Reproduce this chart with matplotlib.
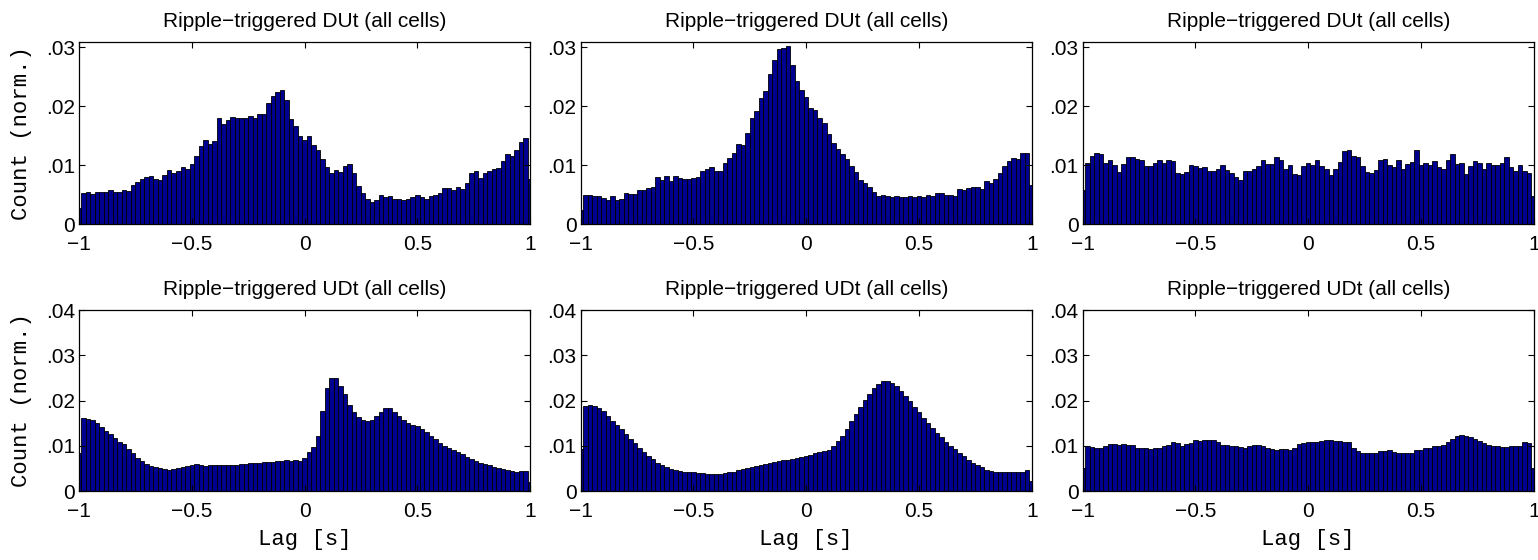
import matplotlib
matplotlib.use("Agg")
import matplotlib.pyplot as plt
from matplotlib.ticker import FixedLocator, FuncFormatter
import numpy as np

# bin centres -1 ... 1, step 0.02 (101 bins)
lag_step = 0.02

du_1 = [0.00265, 0.0052, 0.0055, 0.0051, 0.0054, 0.0055, 0.0055, 0.0058, 0.0054, 0.0054,
        0.0058, 0.0056, 0.0066, 0.0071, 0.0077, 0.0079, 0.0081, 0.0076, 0.0074, 0.0083,
        0.0091, 0.0086, 0.0090, 0.0096, 0.0093, 0.0102, 0.0115, 0.0132, 0.0142, 0.0136,
        0.0140, 0.0179, 0.0170, 0.0177, 0.0182, 0.0180, 0.0179, 0.0179, 0.0183, 0.0180,
        0.0187, 0.0187, 0.0205, 0.0217, 0.0224, 0.0227, 0.0210, 0.0178, 0.0166, 0.0149,
        0.0142, 0.0149, 0.0134, 0.0126, 0.0111, 0.0096, 0.0086, 0.0091, 0.0088, 0.0098,
        0.0101, 0.0086, 0.0064, 0.0052, 0.0043, 0.0038, 0.0041, 0.0050, 0.0046, 0.0047,
        0.0043, 0.0042, 0.0041, 0.0043, 0.0046, 0.0049, 0.0045, 0.0043, 0.0047, 0.0049,
        0.0052, 0.0061, 0.0061, 0.0058, 0.0063, 0.0060, 0.0069, 0.0087, 0.0089, 0.0078,
        0.0087, 0.0090, 0.0093, 0.0095, 0.0107, 0.0118, 0.0116, 0.0125, 0.0139, 0.0145,
        0.0076]

du_2 = [0.0023, 0.0050, 0.0049, 0.0047, 0.0047, 0.0044, 0.0041, 0.0047, 0.0041, 0.0043,
        0.0052, 0.0051, 0.0051, 0.0058, 0.0058, 0.0061, 0.0063, 0.0080, 0.0074, 0.0081,
        0.0073, 0.0081, 0.0078, 0.0077, 0.0077, 0.0078, 0.0080, 0.0090, 0.0093, 0.0096,
        0.0089, 0.0089, 0.0104, 0.0112, 0.0121, 0.0135, 0.0134, 0.0155, 0.0180, 0.0191,
        0.0214, 0.0225, 0.0254, 0.0278, 0.0297, 0.0299, 0.0301, 0.0270, 0.0242, 0.0227,
        0.0215, 0.0196, 0.0193, 0.0180, 0.0172, 0.0153, 0.0138, 0.0127, 0.0118, 0.0111,
        0.0099, 0.0088, 0.0074, 0.0070, 0.0063, 0.0055, 0.0047, 0.0049, 0.0047, 0.0046,
        0.0048, 0.0046, 0.0045, 0.0048, 0.0046, 0.0047, 0.0045, 0.0049, 0.0047, 0.0053,
        0.0052, 0.0049, 0.0049, 0.0047, 0.0059, 0.0057, 0.0061, 0.0062, 0.0062, 0.0059,
        0.0073, 0.0070, 0.0077, 0.0087, 0.0099, 0.0106, 0.0112, 0.0111, 0.0121, 0.0120,
        0.0066]

du_3 = [0.0058, 0.0104, 0.0116, 0.0121, 0.0118, 0.0103, 0.0109, 0.0100, 0.0088, 0.0101,
        0.0113, 0.0114, 0.0110, 0.0108, 0.0099, 0.0099, 0.0104, 0.0108, 0.0103, 0.0108,
        0.0107, 0.0087, 0.0084, 0.0088, 0.0100, 0.0098, 0.0095, 0.0096, 0.0090, 0.0090,
        0.0094, 0.0100, 0.0091, 0.0086, 0.0079, 0.0074, 0.0090, 0.0090, 0.0094, 0.0099,
        0.0108, 0.0102, 0.0102, 0.0113, 0.0109, 0.0093, 0.0100, 0.0084, 0.0083, 0.0099,
        0.0104, 0.0100, 0.0109, 0.0098, 0.0093, 0.0083, 0.0094, 0.0105, 0.0124, 0.0125,
        0.0116, 0.0113, 0.0098, 0.0088, 0.0086, 0.0092, 0.0108, 0.0110, 0.0100, 0.0097,
        0.0109, 0.0093, 0.0101, 0.0105, 0.0126, 0.0100, 0.0104, 0.0100, 0.0107, 0.0096,
        0.0093, 0.0108, 0.0118, 0.0102, 0.0103, 0.0085, 0.0098, 0.0107, 0.0104, 0.0094,
        0.0103, 0.0100, 0.0100, 0.0103, 0.0113, 0.0096, 0.0090, 0.0100, 0.0089, 0.0086,
        0.0047]

ud_1 = [0.0084, 0.0162, 0.0159, 0.0158, 0.0151, 0.0142, 0.0132, 0.0125, 0.0118, 0.0109,
        0.0103, 0.0092, 0.0083, 0.0073, 0.0066, 0.0059, 0.0055, 0.0052, 0.0051, 0.0049,
        0.0047, 0.0049, 0.0051, 0.0052, 0.0055, 0.0058, 0.0059, 0.0057, 0.0056, 0.0057,
        0.0057, 0.0058, 0.0058, 0.0058, 0.0058, 0.0058, 0.0059, 0.0060, 0.0061, 0.0061,
        0.0063, 0.0064, 0.0065, 0.0064, 0.0066, 0.0067, 0.0068, 0.0067, 0.0068, 0.0067,
        0.0073, 0.0087, 0.0097, 0.0122, 0.0176, 0.0227, 0.0250, 0.0249, 0.0232, 0.0214,
        0.0191, 0.0174, 0.0164, 0.0158, 0.0154, 0.0158, 0.0165, 0.0175, 0.0183, 0.0183,
        0.0174, 0.0165, 0.0156, 0.0150, 0.0145, 0.0143, 0.0138, 0.0131, 0.0122, 0.0114,
        0.0105, 0.0100, 0.0094, 0.0090, 0.0086, 0.0081, 0.0075, 0.0071, 0.0067, 0.0063,
        0.0060, 0.0057, 0.0054, 0.0051, 0.0049, 0.0046, 0.0044, 0.0042, 0.0044, 0.0044,
        0.0021]

ud_2 = [0.0092, 0.0187, 0.0190, 0.0188, 0.0184, 0.0176, 0.0166, 0.0155, 0.0146, 0.0136,
        0.0126, 0.0116, 0.0106, 0.0096, 0.0087, 0.0078, 0.0070, 0.0063, 0.0057, 0.0052,
        0.0048, 0.0046, 0.0044, 0.0043, 0.0042, 0.0041, 0.0040, 0.0039, 0.0038, 0.0038,
        0.0038, 0.0038, 0.0039, 0.0041, 0.0043, 0.0046, 0.0049, 0.0051, 0.0053, 0.0055,
        0.0057, 0.0060, 0.0062, 0.0065, 0.0066, 0.0068, 0.0069, 0.0071, 0.0073, 0.0075,
        0.0077, 0.0080, 0.0083, 0.0086, 0.0088, 0.0091, 0.0100, 0.0110, 0.0122, 0.0138,
        0.0154, 0.0170, 0.0186, 0.0201, 0.0215, 0.0227, 0.0237, 0.0243, 0.0243, 0.0239,
        0.0232, 0.0221, 0.0210, 0.0199, 0.0186, 0.0174, 0.0162, 0.0151, 0.0139, 0.0128,
        0.0119, 0.0108, 0.0100, 0.0092, 0.0084, 0.0077, 0.0069, 0.0063, 0.0057, 0.0052,
        0.0047, 0.0044, 0.0042, 0.0041, 0.0041, 0.0041, 0.0041, 0.0041, 0.0042, 0.0046,
        0.0022]

ud_3 = [0.0050, 0.0100, 0.0097, 0.0096, 0.0096, 0.0100, 0.0104, 0.0104, 0.0102, 0.0104,
        0.0102, 0.0102, 0.0096, 0.0095, 0.0095, 0.0093, 0.0094, 0.0094, 0.0099, 0.0102,
        0.0108, 0.0105, 0.0100, 0.0104, 0.0105, 0.0112, 0.0110, 0.0112, 0.0112, 0.0112,
        0.0108, 0.0101, 0.0101, 0.0100, 0.0099, 0.0098, 0.0095, 0.0099, 0.0102, 0.0102,
        0.0099, 0.0096, 0.0093, 0.0091, 0.0093, 0.0093, 0.0091, 0.0096, 0.0103, 0.0105,
        0.0108, 0.0108, 0.0108, 0.0110, 0.0112, 0.0112, 0.0111, 0.0111, 0.0108, 0.0108,
        0.0096, 0.0088, 0.0083, 0.0083, 0.0083, 0.0083, 0.0088, 0.0088, 0.0090, 0.0087,
        0.0084, 0.0083, 0.0083, 0.0085, 0.0090, 0.0090, 0.0094, 0.0094, 0.0099, 0.0099,
        0.0101, 0.0108, 0.0116, 0.0121, 0.0124, 0.0122, 0.0119, 0.0114, 0.0110, 0.0105,
        0.0102, 0.0100, 0.0099, 0.0097, 0.0097, 0.0099, 0.0100, 0.0100, 0.0108, 0.0106,
        0.0050]

title_du = "Ripple\u2212triggered DUt (all cells)"
title_ud = "Ripple\u2212triggered UDt (all cells)"
x_ticks = [-1, -0.5, 0, 0.5, 1]
y_ticks_top = [0, 0.01, 0.02, 0.03]
y_ticks_bot = [0, 0.01, 0.02, 0.03, 0.04]

rows = [(title_du, [du_1, du_2, du_3], 0.03085, y_ticks_top),
        (title_ud, [ud_1, ud_2, ud_3], 0.04, y_ticks_bot)]

plt.rcParams['font.family'] = ['Liberation Sans', 'DejaVu Sans']
plt.rcParams['axes.unicode_minus'] = True
mono = ['Liberation Mono', 'DejaVu Sans Mono']

fig = plt.figure(figsize=(15.38, 5.6), dpi=100)

col_left = [0.0514, 0.3776, 0.7040]
col_w = 0.2932
row_bottom = [0.600, 0.1232]
row_h = [0.325, 0.3232]


def ytick_fmt(v, pos):
    if abs(v) < 1e-12:
        return "0"
    return ("%.2f" % v)[1:]


def xtick_fmt(v, pos):
    return ("%g" % v).replace("-", "\u2212")


for r, (title, series, ymax, yt) in enumerate(rows):
    for c, vals in enumerate(series):
        assert len(vals) == 101
        ax = fig.add_axes([col_left[c], row_bottom[r], col_w, row_h[r]])
        centers = -1 + lag_step * np.arange(len(vals))
        ax.bar(centers, vals, width=lag_step, color='#000090',
               edgecolor='black', linewidth=0.6)
        ax.set_xlim(-1, 1)
        ax.set_ylim(0, ymax)
        ax.xaxis.set_major_locator(FixedLocator(x_ticks))
        ax.yaxis.set_major_locator(FixedLocator(yt))
        ax.xaxis.set_major_formatter(FuncFormatter(xtick_fmt))
        ax.yaxis.set_major_formatter(FuncFormatter(ytick_fmt))
        ax.tick_params(direction='in', top=True, right=True, length=4,
                       width=0.8, labelsize=15, colors='black')
        ax.tick_params(axis='x', pad=8)
        ax.tick_params(axis='y', pad=3)
        for sp in ax.spines.values():
            sp.set_linewidth(0.9)
            sp.set_color('black')
        ax.set_title(title, fontsize=15, pad=11)
        if c == 0:
            ax.set_ylabel("Count (norm.)", fontsize=16, family=mono,
                          labelpad=10)
        if r == 1:
            ax.set_xlabel("Lag [s]", fontsize=16, family=mono,
                          labelpad=6)

fig.savefig("out.png", dpi=100)
